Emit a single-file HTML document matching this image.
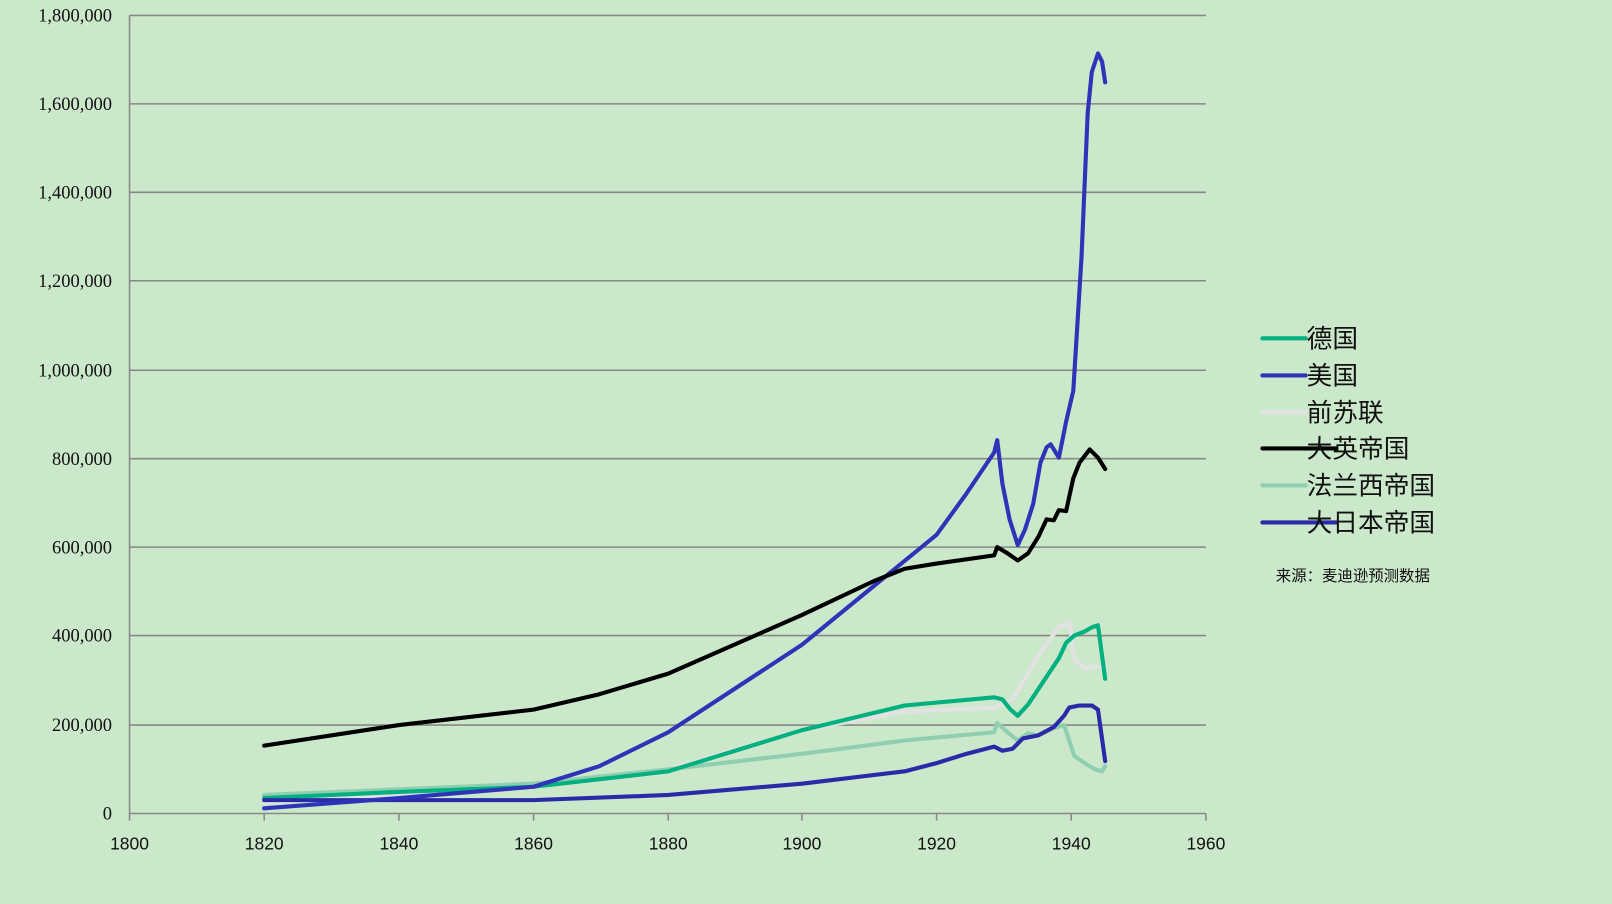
<!DOCTYPE html>
<html><head><meta charset="utf-8"><style>
html,body{margin:0;padding:0;background:#cbe8cb;}
svg{display:block;}
.ser text{font-family:"Liberation Serif","Noto Serif CJK SC",serif;}
.cjk text{font-family:"Liberation Sans","Noto Sans CJK SC",sans-serif;}
</style></head><body>
<svg width="1612" height="904" viewBox="0 0 1568 879" preserveAspectRatio="none" xmlns="http://www.w3.org/2000/svg">
<rect width="1568" height="879" fill="#cbe8cb"/>
<g stroke="#888" stroke-width="1.5">
<line x1="126" y1="15" x2="1173" y2="15"/><line x1="126" y1="101" x2="1173" y2="101"/>
<line x1="126" y1="187" x2="1173" y2="187"/><line x1="126" y1="273" x2="1173" y2="273"/>
<line x1="126" y1="360" x2="1173" y2="360"/><line x1="126" y1="446" x2="1173" y2="446"/>
<line x1="126" y1="532" x2="1173" y2="532"/><line x1="126" y1="618" x2="1173" y2="618"/>
<line x1="126" y1="705" x2="1173" y2="705"/><line x1="126" y1="791" x2="1173" y2="791"/>
<line x1="126" y1="15" x2="126" y2="791"/>
<line x1="126" y1="791" x2="126" y2="798"/><line x1="257" y1="791" x2="257" y2="798"/>
<line x1="388" y1="791" x2="388" y2="798"/><line x1="519" y1="791" x2="519" y2="798"/>
<line x1="650" y1="791" x2="650" y2="798"/><line x1="780" y1="791" x2="780" y2="798"/>
<line x1="911" y1="791" x2="911" y2="798"/><line x1="1042" y1="791" x2="1042" y2="798"/>
<line x1="1173" y1="791" x2="1173" y2="798"/>
</g>
<g font-size="18" text-anchor="end" fill="#111" class="ser">
<text x="109" y="21">1,800,000</text><text x="109" y="107">1,600,000</text>
<text x="109" y="193">1,400,000</text><text x="109" y="279">1,200,000</text>
<text x="109" y="366">1,000,000</text><text x="109" y="452">800,000</text>
<text x="109" y="538">600,000</text><text x="109" y="624">400,000</text>
<text x="109" y="711">200,000</text><text x="109" y="797">0</text>
</g>
<g font-size="17" text-anchor="middle" fill="#111" class="cjk">
<text x="126" y="826">1800</text><text x="257" y="826">1820</text><text x="388" y="826">1840</text>
<text x="519" y="826">1860</text><text x="650" y="826">1880</text><text x="780" y="826">1900</text>
<text x="911" y="826">1920</text><text x="1042" y="826">1940</text><text x="1173" y="826">1960</text>
</g>
<g fill="none" stroke-width="4" stroke-linejoin="round" stroke-linecap="round">
<polyline stroke="#e2e2e2" points="257,780 519,765 650,748 780,710 880,692 967,688 985,680 1000,655 1015,630 1030,610 1040,605 1045,640 1055,650 1065,648 1075,650"/>
<polyline stroke="#8fcfb0" points="257,773 519,762 650,748 780,733 880,720 967,712 970,703 980,712 990,720 1000,713 1010,715 1025,708 1035,705 1045,735 1055,742 1065,748 1072,750 1075,745"/>
<polyline stroke="#00b07e" points="257,776 388,770 519,765 650,750 780,710 880,686 967,678 975,680 983,690 990,696 1000,685 1010,670 1020,655 1030,640 1037,625 1045,618 1055,614 1062,610 1068,608 1075,660"/>
<polyline stroke="#2a2aa8" points="257,778 388,778 519,778 650,773 780,762 880,750 911,742 940,733 967,726 975,730 985,728 995,718 1010,715 1025,707 1035,696 1040,688 1050,686 1062,686 1068,690 1075,740"/>
<polyline stroke="#2f33b8" points="257,786 388,776 519,765 583,745 650,712 780,627 911,520 940,480 967,440 970,428 975,470 982,505 990,530 997,515 1005,490 1012,450 1018,435 1022,432 1030,445 1037,410 1044,380 1052,250 1058,110 1062,70 1068,52 1072,60 1075,80"/>
<polyline stroke="#000" points="257,725 388,705 519,690 583,675 650,655 780,598 850,565 880,553 911,548 967,540 970,532 980,538 990,545 1000,538 1010,522 1018,505 1025,506 1030,496 1037,497 1044,465 1050,450 1060,437 1068,445 1075,456"/>
</g>
<g stroke-width="4" stroke-linecap="round">
<line x1="1228" y1="329" x2="1270" y2="329" stroke="#00b07e"/>
<line x1="1228" y1="365" x2="1270" y2="365" stroke="#2f33b8"/>
<line x1="1228" y1="401" x2="1270" y2="401" stroke="#e2e2e2"/>
<line x1="1228" y1="436" x2="1300" y2="436" stroke="#000"/>
<line x1="1228" y1="472" x2="1270" y2="472" stroke="#8fcfb0"/>
<line x1="1228" y1="508" x2="1300" y2="508" stroke="#2a2aa8"/>
</g>
<g font-size="25" fill="#111" class="cjk">
<text x="1271" y="338">德国</text><text x="1271" y="374">美国</text>
<text x="1271" y="410">前苏联</text><text x="1271" y="445">大英帝国</text>
<text x="1271" y="481">法兰西帝国</text><text x="1271" y="517">大日本帝国</text>
<text x="1241" y="565" font-size="15">来源：麦迪逊预测数据</text>
</g>
</svg>
</body></html>
